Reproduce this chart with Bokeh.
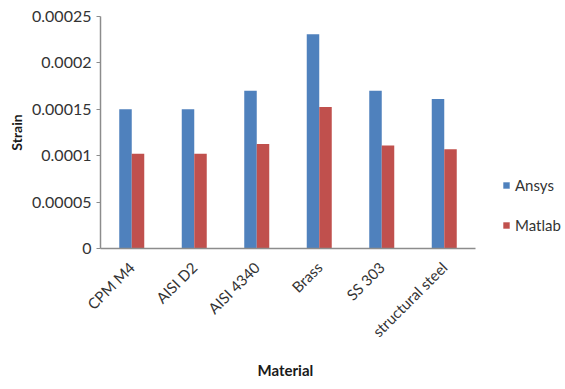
from math import pi
from bokeh.plotting import figure
from bokeh.models import (ColumnDataSource, Range1d, FixedTicker,
                          NumeralTickFormatter, Legend, LegendItem, Title)
from bokeh.transform import dodge
from bokeh.embed import file_html
from bokeh.resources import INLINE

materials = ["CPM M4", "AISI D2", "AISI 4340", "Brass", "SS 303", "structural steel"]
ansys = [0.00015, 0.00015, 0.00017, 0.000231, 0.00017, 0.000161]
matlab = [0.000102, 0.000102, 0.0001125, 0.0001525, 0.000111, 0.000107]
y_ticks = [0, 0.00005, 0.0001, 0.00015, 0.0002, 0.00025]

idx = list(range(len(materials)))
src = ColumnDataSource(dict(idx=idx, material=materials, ansys=ansys, matlab=matlab))

FONT = "Lato"
LEFT, FRAME_W, CAT_W = 100, 465, 62.5
p = figure(width=565, height=389, output_backend="svg", toolbar_location=None,
           x_range=Range1d(-0.5, -0.5 + FRAME_W / CAT_W),
           y_range=Range1d(0, 0.00025))
p.min_border_left = LEFT
p.min_border_right = 0
p.min_border_top = 16
p.min_border_bottom = 141
p.outline_line_color = None
p.xgrid.visible = False
p.ygrid.visible = False

b1 = p.vbar(x=dodge("idx", -0.1), top="ansys", width=0.2,
            source=src, fill_color="#4F81BD", line_color=None)
b2 = p.vbar(x=dodge("idx", 0.1), top="matlab", width=0.2,
            source=src, fill_color="#C0504D", line_color=None)

for ax in (p.xaxis[0], p.yaxis[0]):
    ax.axis_line_color = "#8c8c8c"
    ax.axis_line_width = 1.5
    ax.major_label_text_font = FONT
    ax.major_label_text_color = "#333333"
    ax.axis_label_text_font = FONT
    ax.axis_label_text_font_style = "bold"
    ax.axis_label_text_color = "#1a1a1a"
    ax.minor_tick_line_color = None

p.yaxis.ticker = FixedTicker(ticks=y_ticks)
p.yaxis.formatter = NumeralTickFormatter(format="0.[00000]")
p.yaxis.major_tick_line_color = "#8c8c8c"
p.yaxis.major_tick_out = 4
p.yaxis.major_tick_in = 0
p.yaxis.major_label_text_font_size = "16px"
p.yaxis.axis_label = "Strain"
p.yaxis.axis_label_text_font_size = "14px"
p.yaxis.axis_label_standoff = 4

p.xaxis.bounds = (-0.5, len(materials) - 0.5)
p.xaxis.ticker = FixedTicker(ticks=idx)
p.xaxis.major_label_overrides = {i: m for i, m in zip(idx, materials)}
p.xaxis.major_tick_line_color = None
p.xaxis.major_label_orientation = pi / 4
p.xaxis.major_label_text_font_size = "15px"
p.xaxis.major_label_standoff = 10

xtitle = Title(text="Material", align="left", offset=157, standoff=19,
               text_font=FONT, text_font_size="15px", text_font_style="bold",
               text_color="#1a1a1a")
p.add_layout(xtitle, "below")

legend = Legend(items=[LegendItem(label="Ansys", renderers=[b1]),
                       LegendItem(label="Matlab", renderers=[b2])],
                location=(402, 13), orientation="vertical",
                glyph_width=8, glyph_height=8, label_height=20, spacing=20,
                label_standoff=5, padding=0, margin=0,
                border_line_color=None, background_fill_alpha=0,
                label_text_font=FONT, label_text_font_size="15px",
                label_text_color="#333333")
p.add_layout(legend, "center")

open("out.html", "w").write(file_html(p, INLINE))
